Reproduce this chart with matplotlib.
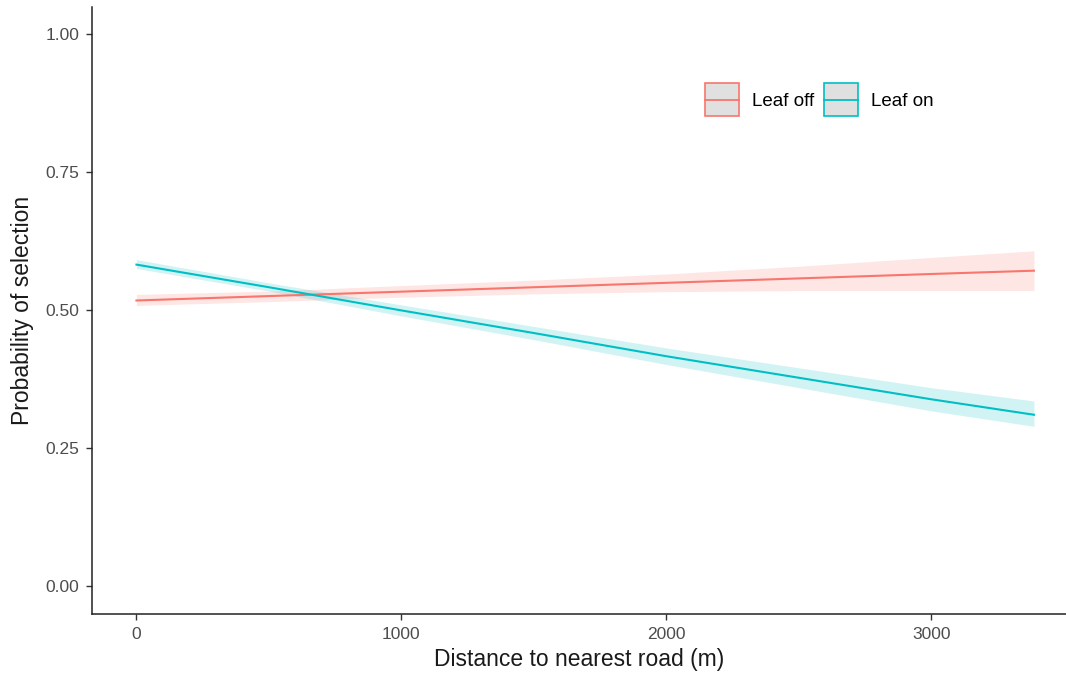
import matplotlib.pyplot as plt
from matplotlib.patches import Rectangle
from matplotlib.lines import Line2D
from matplotlib.legend_handler import HandlerBase

plt.rcParams['font.family'] = ['Liberation Sans', 'DejaVu Sans']

# distance to nearest road (m)
distance = [0, 500, 1000, 1500, 2000, 2500, 3000, 3387]

# Leaf off: fit and confidence band
off_fit = [0.518, 0.526, 0.534, 0.542, 0.550, 0.558, 0.566, 0.572]
off_lo = [0.509, 0.516, 0.524, 0.530, 0.534, 0.536, 0.536, 0.536]
off_hi = [0.529, 0.535, 0.545, 0.555, 0.566, 0.580, 0.596, 0.608]

# Leaf on: fit and confidence band
on_fit = [0.583, 0.542, 0.500, 0.459, 0.417, 0.378, 0.339, 0.311]
on_lo = [0.576, 0.535, 0.490, 0.447, 0.402, 0.360, 0.318, 0.290]
on_hi = [0.592, 0.550, 0.510, 0.471, 0.432, 0.396, 0.360, 0.336]

labels = ['Leaf off', 'Leaf on']
colors = ['#F8766D', '#00BFC4']
y_ticks = [0.00, 0.25, 0.50, 0.75, 1.00]
x_ticks = [0, 1000, 2000, 3000]


# ggplot-like legend key: grey box with coloured border and a line through the middle
class KeyHandler(HandlerBase):
    def create_artists(self, legend, orig_handle, xdescent, ydescent,
                       width, height, fontsize, trans):
        c = orig_handle.get_color()
        r = Rectangle((-xdescent, -ydescent), width, height, facecolor='#E0E0E0',
                      edgecolor=c, lw=1.2, transform=trans)
        l = Line2D([-xdescent, -xdescent + width], [-ydescent + height / 2] * 2,
                   color=c, lw=1.3, transform=trans)
        return [r, l]


fig = plt.figure(figsize=(10.66, 6.83), dpi=100)
ax = fig.add_axes([0.086, 0.101, 0.914, 0.889])

ax.fill_between(distance, off_lo, off_hi, color=colors[0], alpha=0.18, lw=0)
ax.fill_between(distance, on_lo, on_hi, color=colors[1], alpha=0.18, lw=0)
ax.plot(distance, off_fit, color=colors[0], lw=1.5)
ax.plot(distance, on_fit, color=colors[1], lw=1.5)

ax.set_xlim(-169, 3508)
ax.set_ylim(-0.05, 1.05)
ax.set_xticks(x_ticks)
ax.set_yticks(y_ticks)
ax.set_yticklabels(['%.2f' % v for v in y_ticks])

for s in ['top', 'right']:
    ax.spines[s].set_visible(False)
for s in ['left', 'bottom']:
    ax.spines[s].set_linewidth(1.1)
    ax.spines[s].set_color('#222222')
ax.tick_params(direction='out', length=4, width=1.0, color='#333333',
               labelcolor='#4D4D4D', labelsize=12.5, pad=5)

ax.set_xlabel('Distance to nearest road (m)', fontsize=16.5, color='#1A1A1A', labelpad=5)
ax.set_ylabel('Probability of selection', fontsize=16.5, color='#1A1A1A', labelpad=8)

handles = [Line2D([0], [0], color=c) for c in colors]
ax.legend(handles, labels, ncol=2, frameon=False, loc='center',
          bbox_to_anchor=(0.747, 0.847), fontsize=13.5,
          handler_map={Line2D: KeyHandler()},
          handlelength=1.81, handleheight=2.34, handletextpad=0.7,
          columnspacing=0.53, borderaxespad=0)

fig.savefig('out.png', dpi=100)
